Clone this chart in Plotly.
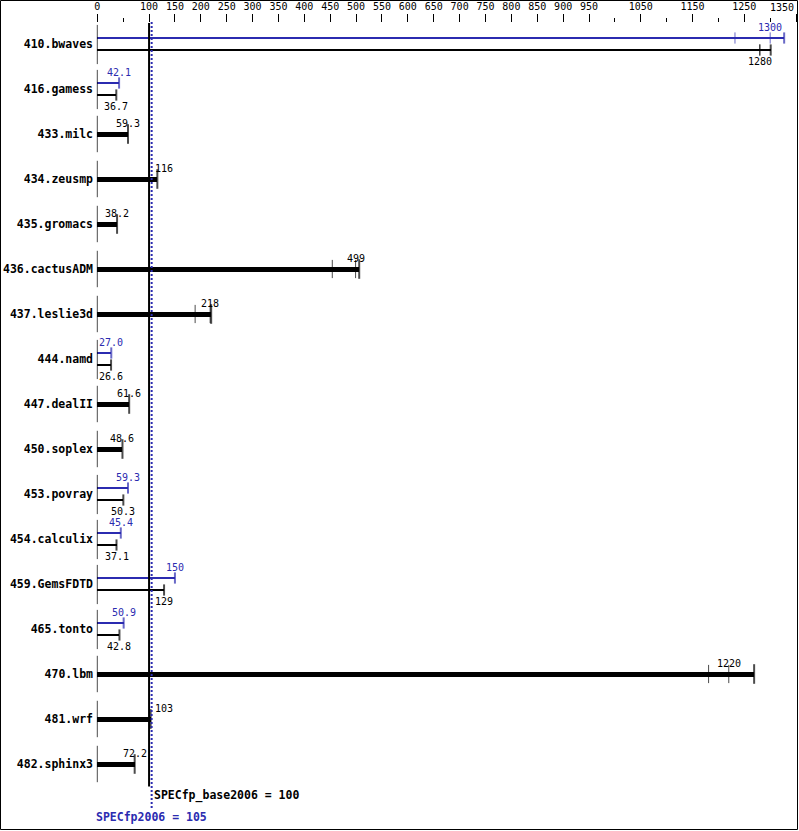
import plotly.graph_objects as go

# ---------------- data ----------------
benchmarks = ["410.bwaves", "416.gamess", "433.milc", "434.zeusmp", "435.gromacs",
              "436.cactusADM", "437.leslie3d", "444.namd", "447.dealII", "450.soplex",
              "453.povray", "454.calculix", "459.GemsFDTD", "465.tonto", "470.lbm",
              "481.wrf", "482.sphinx3"]

base_median = [1280, 36.7, 59.3, 116, 38.2, 499, 218, 26.6, 61.6, 48.6,
               50.3, 37.1, 129, 42.8, 1220, 103, 72.2]
base_min = [1280, 36.7, 59.3, 116, 38.2, 454, 189, 26.6, 61.6, 48.6,
            50.3, 37.1, 129, 42.8, 1181, 103, 72.2]
base_max = [1301, 36.7, 59.3, 116, 38.2, 506, 220, 26.6, 61.6, 48.6,
            50.3, 37.1, 129, 42.8, 1269, 103, 72.2]
base_text = ["1280", "36.7", "59.3", "116", "38.2", "499", "218", "26.6", "61.6", "48.6",
             "50.3", "37.1", "129", "42.8", "1220", "103", "72.2"]

peak_median = [1300, 42.1, None, None, None, None, None, 27.0, None, None,
               59.3, 45.4, 150, 50.9, None, None, None]
peak_min = [1232, 42.1, None, None, None, None, None, 27.0, None, None,
            59.3, 45.4, 150, 50.9, None, None, None]
peak_max = [1327, 42.1, None, None, None, None, None, 27.0, None, None,
            59.3, 45.4, 150, 50.9, None, None, None]
peak_text = ["1300", "42.1", None, None, None, None, None, "27.0", None, None,
             "59.3", "45.4", "150", "50.9", None, None, None]

major_ticks = [0, 100, 150, 200, 250, 300, 350, 400, 450, 500, 550, 600, 650, 700,
               750, 800, 850, 900, 950, 1050, 1150, 1250, 1350]
minor_ticks = [50, 1000, 1100, 1200, 1300]

specfp_base = 100
specfp_peak = 105
base_summary = "SPECfp_base2006 = 100"
peak_summary = "SPECfp2006 = 105"

# ---------------- styling ----------------
W, H = 799, 831
ML, MT = 97, 23
ROW_PX = 45.0
FIRST_ROW_PX = 44.0
PX_PER_UNIT = 0.5176
BLUE = "#2b2bb0"
MONO = "DejaVu Sans Mono"

plot_w = W - ML
plot_h = H - MT
x_lo = -0.3 / PX_PER_UNIT
x_hi = x_lo + plot_w / PX_PER_UNIT
y_top = (MT - FIRST_ROW_PX) / ROW_PX
y_bot = y_top + plot_h / ROW_PX

def dy(px):
    return px / ROW_PX

n = len(benchmarks)
has_peak = [p is not None for p in peak_median]

fig = go.Figure()

# base bars
b_y, b_w = [], []
for i in range(n):
    if has_peak[i]:
        b_y.append(i + dy(6)); b_w.append(dy(2.4))
    else:
        b_y.append(i); b_w.append(dy(5))
fig.add_trace(go.Bar(orientation="h", x=base_max, y=b_y, width=b_w, base=0,
                     marker=dict(color="black", line=dict(width=0)),
                     hoverinfo="skip", showlegend=False))

# peak bars
p_idx = [i for i in range(n) if has_peak[i]]
fig.add_trace(go.Bar(orientation="h", x=[peak_max[i] for i in p_idx],
                     y=[i - dy(6) for i in p_idx], width=dy(2.4), base=0,
                     marker=dict(color=BLUE, line=dict(width=0)),
                     hoverinfo="skip", showlegend=False))

# end caps (max) and run ticks (min, median)
def add_ticks(xs, ys, sizes, widths, color):
    fig.add_trace(go.Scatter(x=xs, y=ys, mode="markers", cliponaxis=False,
                             marker=dict(symbol="line-ns", size=sizes,
                                         line=dict(width=widths, color=color),
                                         color=color),
                             hoverinfo="skip", showlegend=False))

cx, cy, cs, cw = [], [], [], []
for i in range(n):
    thin = has_peak[i]
    cx.append(base_max[i]); cy.append(b_y[i]); cs.append(8 if thin else 14); cw.append(2)
    for v in (base_min[i], base_median[i]):
        if v != base_max[i]:
            cx.append(v); cy.append(b_y[i]); cs.append(8 if thin else 13); cw.append(1)
add_ticks(cx, cy, cs, cw, "black")

px_, py_, ps_, pw_ = [], [], [], []
for i in p_idx:
    yy = i - dy(6)
    px_.append(peak_max[i]); py_.append(yy); ps_.append(8); pw_.append(2)
    for v in (peak_min[i], peak_median[i]):
        if v != peak_max[i]:
            px_.append(v); py_.append(yy); ps_.append(8); pw_.append(1)
add_ticks(px_, py_, ps_, pw_, BLUE)

# left brackets at zero
add_ticks([0] * n, [i + (dy(0.5) if has_peak[i] else 0) for i in range(n)],
          [28 if has_peak[i] else 26 for i in range(n)], 1, "black")

# reference lines
fig.add_shape(type="line", xref="x", yref="paper", x0=specfp_base, x1=specfp_base,
              y0=(H - 786.5) / plot_h, y1=1.0, line=dict(color="black", width=2))
fig.add_shape(type="line", xref="x", yref="paper", x0=specfp_peak, x1=specfp_peak,
              y0=(H - 808) / plot_h, y1=1.0 + 1 / plot_h,
              line=dict(color=BLUE, width=2, dash="2px,2px"))

# value labels
def lab_x(v):
    return 128 if 80 < v < 127 else v

ann = []
for i in range(n):
    if has_peak[i]:
        ann.append(dict(x=lab_x(peak_median[i]), y=i - dy(17), text=peak_text[i],
                        font=dict(color=BLUE)))
        ann.append(dict(x=lab_x(base_median[i]), y=i + dy(17), text=base_text[i],
                        font=dict(color="black")))
    else:
        ann.append(dict(x=lab_x(base_median[i]), y=i - dy(11), text=base_text[i],
                        font=dict(color="black")))
for a in ann:
    a.update(xref="x", yref="y", showarrow=False, xanchor="center", yanchor="middle")
    a["font"].update(family=MONO, size=10)
    fig.add_annotation(**a)

fig.add_annotation(x=specfp_base, y=(795 - FIRST_ROW_PX) / ROW_PX, xref="x", yref="y",
                   text=base_summary, showarrow=False, xanchor="left", yanchor="middle",
                   xshift=3, font=dict(family=MONO, size=11.5, color="black", weight="bold"))
fig.add_annotation(x=0, y=(817 - FIRST_ROW_PX) / ROW_PX, xref="x", yref="y",
                   text=peak_summary, showarrow=False, xanchor="left", yanchor="middle",
                   xshift=-3, font=dict(family=MONO, size=11.5, color=BLUE, weight="bold"))

# frame
fig.add_shape(type="rect", xref="paper", yref="paper",
              x0=(0.5 - ML) / plot_w, x1=(797.5 - ML) / plot_w,
              y0=(H - 829.5) / plot_h, y1=(H - 0.5) / plot_h,
              line=dict(color="black", width=1), fillcolor="rgba(0,0,0,0)")

# last tick label is pulled inside the frame (as in the original)
tick_text = [str(t) for t in major_ticks]
last_label = tick_text[-1]
tick_text[-1] = ""
fig.add_annotation(x=major_ticks[-1], y=1 + (MT - 7.5) / plot_h, xref="x", yref="paper",
                   text=last_label, showarrow=False, xanchor="right", yanchor="middle",
                   xshift=0, font=dict(family=MONO, size=10, color="black"))

fig.update_layout(
    width=W, height=H,
    margin=dict(l=ML, r=0, t=MT, b=0, pad=0),
    paper_bgcolor="white", plot_bgcolor="white",
    barmode="overlay", bargap=0,
    xaxis=dict(side="top", range=[x_lo, x_hi], tickmode="array",
               tickvals=major_ticks, ticktext=tick_text, ticks="outside", ticklen=8,
               tickwidth=1, tickcolor="black", showgrid=False, zeroline=False,
               showline=False, automargin=False, ticklabeloverflow="allow",
               tickfont=dict(family=MONO, size=10, color="black"),
               minor=dict(tickmode="array", tickvals=minor_ticks, ticks="outside",
                          ticklen=4, tickwidth=1, tickcolor="black", showgrid=False)),
    yaxis=dict(range=[y_bot, y_top], tickmode="array", tickvals=list(range(n)),
               ticktext=benchmarks, ticks="", showgrid=False, zeroline=False,
               showline=False, automargin=False, ticklabelstandoff=3,
               tickfont=dict(family=MONO, size=11.5, color="black", weight="bold")),
)

fig.write_html("out.html", config={"displayModeBar": False},
               post_script="document.body.style.margin='0';document.body.style.overflow='hidden';")
